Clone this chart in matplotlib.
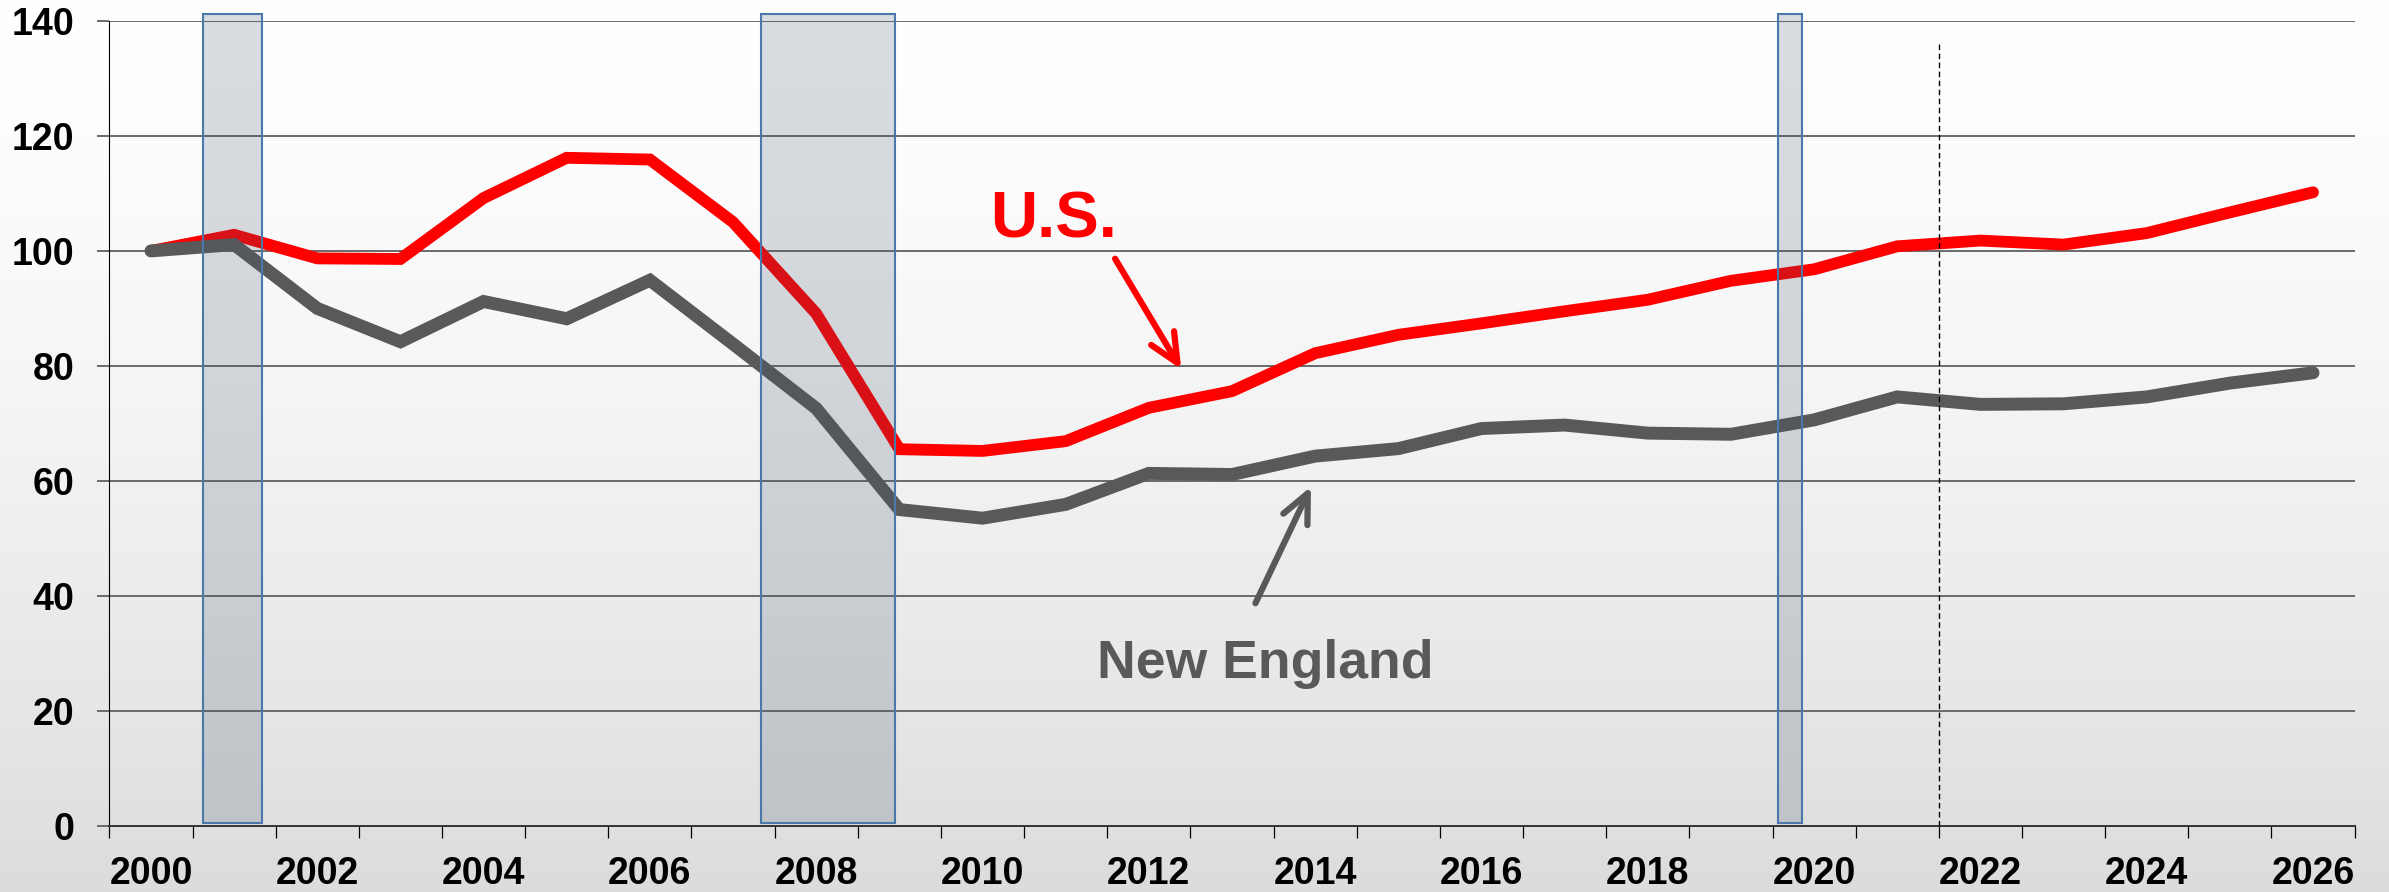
import numpy as np
import matplotlib
matplotlib.use("Agg")
import matplotlib.pyplot as plt

# ---------------- data ----------------
years = list(range(2000, 2027))
us_values = [100, 102.8, 98.7, 98.6, 109.2, 116.2, 115.9, 105.0, 89.1, 65.5,
             65.2, 66.9, 72.7, 75.6, 82.2, 85.4, 87.4, 89.5, 91.5, 94.8,
             96.8, 100.8, 101.8, 101.1, 103.1, 106.7, 110.2]
ne_values = [100, 101.1, 90.0, 84.2, 91.2, 88.2, 94.9, 83.8, 72.6, 55.0,
             53.5, 55.9, 61.3, 61.1, 64.3, 65.6, 69.1, 69.7, 68.3, 68.1,
             70.6, 74.6, 73.3, 73.4, 74.6, 77.0, 78.8]
recession_start = [2000.62, 2007.34, 2019.56]
recession_end = [2001.34, 2008.95, 2019.85]
forecast_divider = 2021.5
x_tick_labels = [str(y) for y in range(2000, 2027, 2)]
y_ticks = [0, 20, 40, 60, 80, 100, 120, 140]

plt.rcParams['font.family'] = ['Liberation Sans', 'DejaVu Sans']

W, H, DPI = 2389, 892, 100
fig = plt.figure(figsize=(W / DPI, H / DPI), dpi=DPI)

# background gradient
bg = fig.add_axes([0, 0, 1, 1], zorder=-10)
t = np.linspace(0, 1, 400)[:, None]
vals = (255 - 35 * t ** 1.5) / 255.0
img = np.repeat(vals, 2, axis=1)
bg.imshow(np.dstack([img, img, img]), aspect='auto', extent=[0, 1, 0, 1],
          origin='upper')
bg.axis('off')

left = 109.4 / W
right = 2354.6 / W
bottom = (H - 825.7) / H
top = (H - 21.0) / H
ax = fig.add_axes([left, bottom, right - left, top - bottom])
ax.set_facecolor('none')

grid_color = '#6a6a6a'

ax.set_xlim(1999.5, 2026.5)
ax.set_ylim(0, 140)

# gridlines
for yv in y_ticks[1:]:
    ax.axhline(yv, color=grid_color, lw=1.4, zorder=1)

# lines
ax.plot(years, us_values, color='#ff0000', lw=8.5, zorder=3,
        solid_capstyle='round', solid_joinstyle='miter')
ax.plot(years, ne_values, color='#595959', lw=9.3, zorder=3.1,
        solid_capstyle='round', solid_joinstyle='miter')

# recession bars
for s, e in zip(recession_start, recession_end):
    ax.fill_between([s, e], 0.5, 141.2, color=(0.26, 0.32, 0.42), alpha=0.2,
                    lw=0, zorder=4, clip_on=False)
    ax.plot([s, s, e, e, s], [0.5, 141.2, 141.2, 0.5, 0.5], color='#4a78aa',
            lw=1.5, zorder=4.1, clip_on=False, solid_joinstyle='miter')

# forecast divider
ax.plot([forecast_divider, forecast_divider], [0, 136.2], color='black',
        lw=1.0, dashes=(4, 2.5), zorder=5)

# spines
for sp in ['top', 'right']:
    ax.spines[sp].set_visible(False)
ax.spines['left'].set_color('black')
ax.spines['left'].set_linewidth(0.8)
ax.spines['bottom'].set_color('#333333')
ax.spines['bottom'].set_linewidth(1.4)
ax.spines['left'].set_zorder(2)
ax.spines['bottom'].set_zorder(2)

# ticks
ax.set_xticks(np.arange(1999.5, 2026.6, 1.0))
ax.set_xticklabels([])
ax.tick_params(axis='x', which='major', direction='out', length=8.5,
               width=0.9, color='black')
ax.set_xticks(range(2000, 2027, 2), minor=True)
ax.set_xticklabels(x_tick_labels, minor=True)
ax.tick_params(axis='x', which='minor', length=0, pad=22, labelsize=27)
for lab in ax.get_xticklabels(minor=True):
    lab.set_fontweight('bold')

ax.set_yticks(y_ticks)
ax.set_yticklabels([str(v) for v in y_ticks])
ax.tick_params(axis='y', direction='out', length=8.6, width=1.4,
               color=grid_color, pad=16.5, labelsize=27)
for lab in ax.get_yticklabels():
    lab.set_fontweight('bold')

# annotations
ax.text(2010.096, 102.3, 'U.S.', color='#ff0000', fontsize=47,
        fontweight='bold', ha='left', va='baseline', zorder=6)
ax.text(2011.377, 25.71, 'New England', color='#595959', fontsize=38.5,
        fontweight='bold', ha='left', va='baseline', zorder=6)

arrow_style = '->,head_length=0.52,head_width=0.24'
ax.annotate('', xy=(2012.39, 79.4), xytext=(2011.594, 98.64),
            arrowprops=dict(arrowstyle=arrow_style, color='#ff0000', lw=4.5,
                            mutation_scale=40, shrinkA=0, shrinkB=0,
                            capstyle='round', joinstyle='round'), zorder=6)
ax.annotate('', xy=(2013.95, 59.0), xytext=(2013.282, 38.71),
            arrowprops=dict(arrowstyle=arrow_style, color='#595959', lw=4.5,
                            mutation_scale=40, shrinkA=0, shrinkB=0,
                            capstyle='round', joinstyle='round'), zorder=6)

fig.savefig('out.png', dpi=DPI)
